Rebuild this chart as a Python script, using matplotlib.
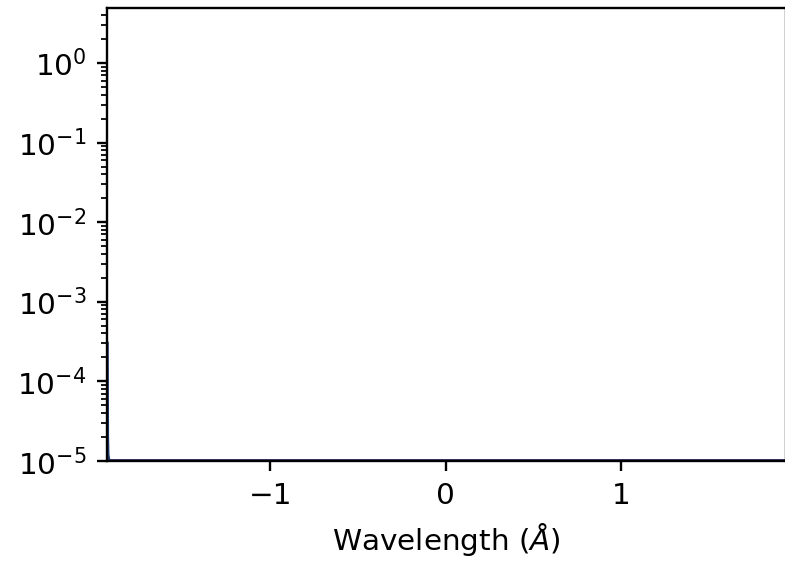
import matplotlib
matplotlib.use("Agg")
import matplotlib.pyplot as plt

# Wavelength offset from line centre (Angstrom)
wavelength = [-1.93, -1.929, -1.928, -1.926, -1.92, -1.5, -1.0, -0.5, 0.0, 0.5, 1.0, 1.5, 1.93]

# Normalised line profiles; all lie at the floor of the plot except the far blue wing
profile_a = [3.0e-4, 6.0e-5, 2.0e-5, 1.2e-5, 1.0e-5, 1.0e-5, 1.0e-5, 1.0e-5, 1.0e-5, 1.0e-5, 1.0e-5, 1.0e-5, 1.0e-5]
profile_b = [1.0e-5, 1.0e-5, 1.0e-5, 1.0e-5, 1.0e-5, 1.0e-5, 1.0e-5, 1.0e-5, 1.0e-5, 1.0e-5, 1.0e-5, 1.0e-5, 1.0e-5]
profile_c = [2.0e-5, 1.0e-5, 1.0e-5, 1.0e-5, 1.0e-5, 1.0e-5, 1.0e-5, 1.0e-5, 1.0e-5, 1.0e-5, 1.0e-5, 1.0e-5, 1.0e-5]

profiles = [profile_c, profile_b, profile_a]
colors = ["tab:cyan", "tab:red", "#1f3b73"]

x_ticks = [-1, 0, 1]

DPI = 212
fig = plt.figure(figsize=(785 / DPI, 562 / DPI), dpi=DPI)
ax = fig.add_axes([107 / 785, 1 - 461 / 562, (786 - 107) / 785, (461 - 8) / 562])

for prof, col in zip(profiles, colors):
    ax.plot(wavelength, prof, color=col, lw=1.2)

ax.set_yscale("log")
ax.set_ylim(1e-5, 4.9)
ax.set_xlim(-1.93, 1.94)
ax.set_xticks(x_ticks)
ax.set_xlabel(r"Wavelength ($\AA$)")

fig.savefig("out.png", dpi=DPI)
